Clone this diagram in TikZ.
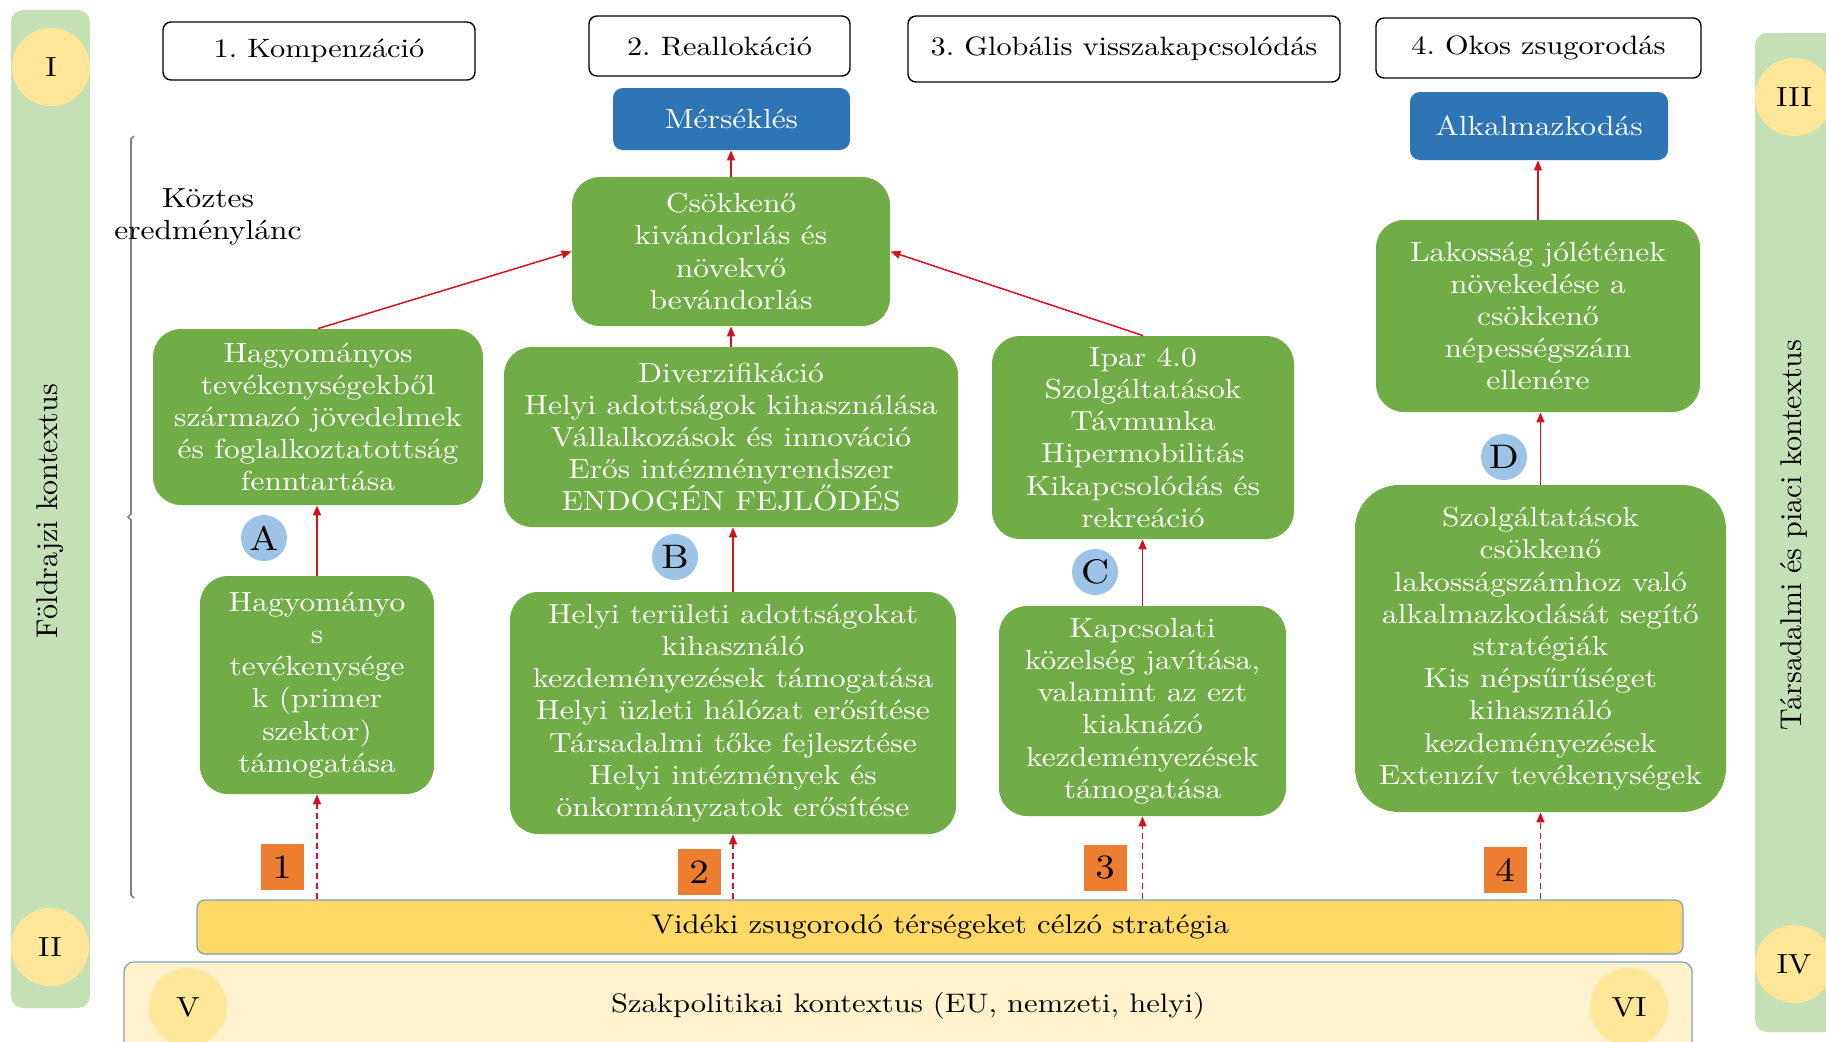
\documentclass[tikz,border=0pt]{standalone}
\usepackage{fontspec}
\setmainfont{lmroman10-regular.otf}[FakeStretch=1.14]
\newfontfamily\rotfont{lmroman10-regular.otf}
\usetikzlibrary{arrows.meta,calc}
\definecolor{gcol}{HTML}{70AD47}
\definecolor{bcol}{HTML}{2E75B6}
\definecolor{lbcol}{HTML}{9DC3E6}
\definecolor{ocol}{HTML}{ED7D31}
\definecolor{ybar}{HTML}{FFD966}
\definecolor{ypol}{HTML}{FFF2CC}
\definecolor{ycirc}{HTML}{FFE699}
\definecolor{sidecol}{HTML}{C5E0B4}
\definecolor{arrcol}{RGB}{208,20,30}
\definecolor{bordcol}{HTML}{7F9CC0}
\frenchspacing
\begin{document}
\begin{tikzpicture}[x=0.5pt,y=-0.5pt,
  txt/.style={font=\fontsize{13.8}{16.1}\selectfont, align=center, inner sep=0pt},
  gbox/.style={txt, fill=gcol, text=white, rounded corners=14pt},
  hbox/.style={txt, draw=black, line width=0.7pt, rounded corners=4pt, fill=white, font=\fontsize{13.3}{16}\selectfont},
  bbox/.style={txt, fill=bcol, text=white, rounded corners=5pt},
  badge/.style={circle, fill=lbcol, minimum size=23pt, inner sep=0pt, font=\fontsize{17}{17}\selectfont},
  onum/.style={fill=ocol, minimum width=21.5pt, minimum height=23pt, inner sep=0pt, font=\fontsize{17}{17}\selectfont},
  rnum/.style={circle, fill=ycirc, minimum size=39pt, inner sep=0pt, font=\fontsize{13.8}{16}\selectfont},
  arr/.style={draw=arrcol, line width=0.75pt, -{Triangle[width=4pt,length=5pt]}},
  darr/.style={arr, dash pattern=on 3pt off 2pt},
  sidebar/.style={fill=sidecol, rounded corners=6pt},
  rottxt/.style={rotate=90, font=\rotfont\fontsize{15}{18}\selectfont, inner sep=0pt}
]
\useasboundingbox (0,0) rectangle (1826,1041);
\clip (0,0) rectangle (1826,1041);
\fill[white] (0,0) rectangle (1826,1041);

% side bars
\fill[sidebar] (11,10) rectangle (90,1008);
\fill[sidebar] (1755,33) rectangle (1850,1032);
\node[rnum] (cI) at (51,67) {I};
\node[rnum] (cII) at (50,947) {II};
\node[rnum] (cIII) at (1794,97) {III};
\node[rnum] (cIV) at (1794,964) {IV};
\node[rottxt] (geo) at (50,511) {Földrajzi kontextus};
\node[rottxt] (soc) at (1794,535) {Társadalmi és piaci kontextus};

% policy box
\filldraw[fill=ypol, draw=bordcol, line width=0.6pt, rounded corners=5pt] (124,962) rectangle (1692,1100);
\node[txt, font=\fontsize{13.4}{16}\selectfont] (poltxt) at (908,1006) {Szakpolitikai kontextus (EU, nemzeti, helyi)};
\node[rnum] (cV) at (188,1007) {V};
\node[rnum] (cVI) at (1629,1007) {VI};

% strategy bar
\node[txt, font=\fontsize{13.5}{16}\selectfont, fill=ybar, draw=bordcol, line width=0.6pt, rounded corners=4pt,
  minimum width=743pt, minimum height=27pt] (strat) at (940,927)
  {Vidéki zsugorodó térségeket célzó stratégia};

% headers
\node[hbox, minimum width=156pt, minimum height=29pt] (k1) at (319,51) {1. Kompenzáció};
\node[hbox, minimum width=130.5pt, minimum height=30pt] (k2) at (719.5,46) {2. Reallokáció};
\node[hbox, minimum width=216pt, minimum height=33pt] (k3) at (1124,49) {3. Globális visszakapcsolódás};
\node[hbox, minimum width=162.5pt, minimum height=30pt] (k4) at (1538.5,48) {4. Okos zsugorodás};

% blue boxes
\node[bbox, minimum width=118.5pt, minimum height=31pt] (mers) at (731.5,119) {Mérséklés};
\node[bbox, minimum width=129pt, minimum height=34pt] (alk) at (1539,126) {Alkalmazkodás};

% green boxes
\node[gbox, minimum width=159pt, minimum height=74.5pt] (csok) at (731,251.5)
  {Csökkenő\\kivándorlás és\\növekvő\\bevándorlás};
\node[gbox, minimum width=165pt, minimum height=88pt] (hagy1) at (318,417)
  {Hagyományos\\tevékenységekből\\származó jövedelmek\\és foglalkoztatottság\\fenntartása};
\node[gbox, minimum width=227pt, minimum height=90pt] (div) at (731,437)
  {Diverzifikáció\\Helyi adottságok kihasználása\\Vállalkozások és innováció\\Erős intézményrendszer\\ENDOGÉN FEJLŐDÉS};
\node[gbox, minimum width=151pt, minimum height=101.5pt] (ipar) at (1143,437.5)
  {Ipar 4.0\\Szolgáltatások\\Távmunka\\Hipermobilitás\\Kikapcsolódás és\\rekreáció};
\node[gbox, minimum width=162pt, minimum height=96pt] (lak) at (1538,316)
  {Lakosság jólétének\\növekedése a\\csökkenő\\népességszám\\ellenére};
\node[gbox, minimum width=117pt, minimum height=109pt] (hagy2) at (317,685)
  {Hagyományo\\s\\tevékenysége\\k (primer\\szektor)\\támogatása};
\node[gbox, minimum width=223pt, minimum height=121pt] (helyi) at (733,713)
  {Helyi területi adottságokat\\kihasználó\\kezdeményezések támogatása\\Helyi üzleti hálózat erősítése\\Társadalmi tőke fejlesztése\\Helyi intézmények és\\önkormányzatok erősítése};
\node[gbox, minimum width=143.5pt, minimum height=105pt] (kapcs) at (1142.5,711)
  {Kapcsolati\\közelség javítása,\\valamint az ezt\\kiaknázó\\kezdeményezések\\támogatása};
\node[gbox, rounded corners=22pt, minimum width=185.5pt, minimum height=163.5pt] (szolg) at (1540.5,648.5)
  {Szolgáltatások\\csökkenő\\lakosságszámhoz való\\alkalmazkodását segítő\\stratégiák\\Kis népsűrűséget\\kihasználó\\kezdeményezések\\Extenzív tevékenységek};

% bracket and label
\draw[gray, line width=0.8pt] (134,136) -- (131,139) -- (131,514) -- (128,517) -- (131,520) -- (131,895) -- (134,898);
\node[txt] (koztes) at (208,217) {Köztes\\eredménylánc};

% badges
\node[badge] (bA) at (264,538) {A};
\node[badge] (bB) at (675,557) {B};
\node[badge] (bC) at (1095,572) {C};
\node[badge] (bD) at (1504,457) {D};

% orange numbers
\node[onum] (n1) at (282,867) {1};
\node[onum] (n2) at (699,872) {2};
\node[onum] (n3) at (1105,868) {3};
\node[onum] (n4) at (1505,870) {4};

% arrows
\draw[arr] (csok.north) -- (csok.north |- mers.south);
\draw[arr] (div.north) -- (div.north |- csok.south);
\draw[arr] (hagy1.north) -- (csok.west);
\draw[arr] (ipar.north) -- (csok.east);
\draw[arr] (lak.north) -- (lak.north |- alk.south);
\draw[arr] (szolg.north) -- (szolg.north |- lak.south);
\draw[arr] (hagy2.north) -- (hagy2.north |- hagy1.south);
\draw[arr] (helyi.north) -- (helyi.north |- div.south);
\draw[arr] (kapcs.north) -- (kapcs.north |- ipar.south);

\draw[darr] (hagy2.south |- strat.north) -- (hagy2.south);
\draw[darr] (helyi.south |- strat.north) -- (helyi.south);
\draw[darr] (kapcs.south |- strat.north) -- (kapcs.south);
\draw[darr] (szolg.south |- strat.north) -- (szolg.south);
\end{tikzpicture}
\end{document}
